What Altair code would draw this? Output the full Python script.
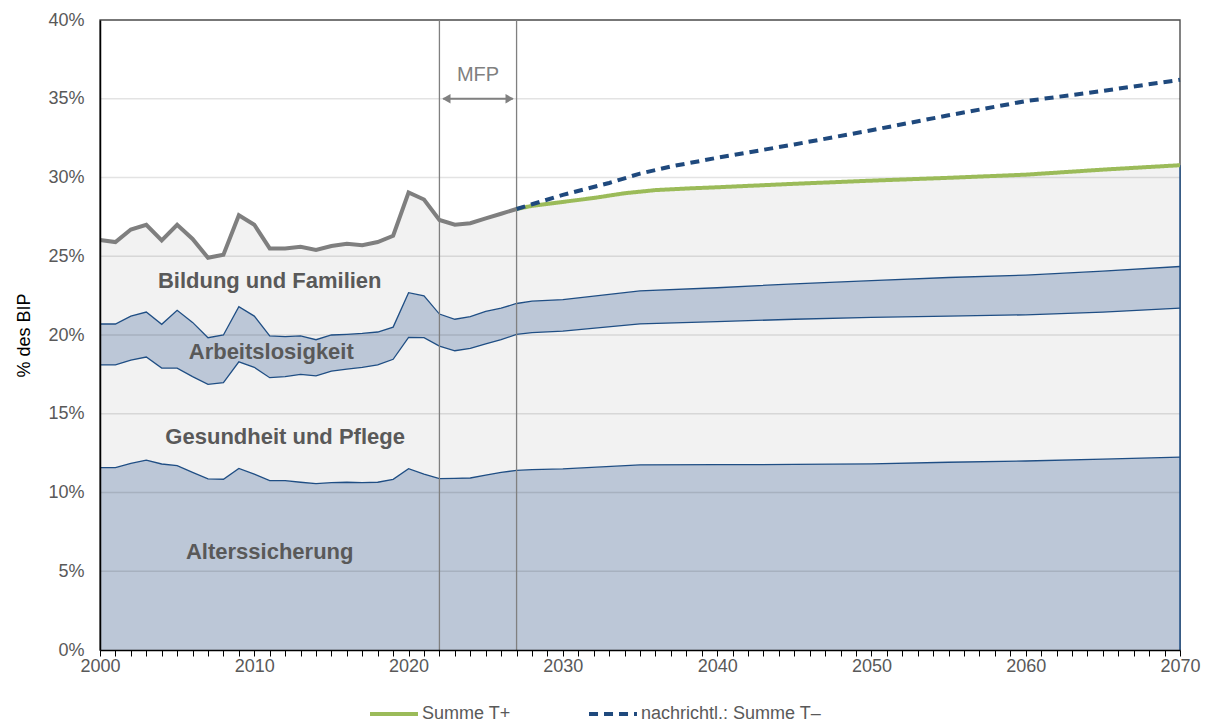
import altair as alt
import pandas as pd

# ---------------- data (values in % of GDP) ----------------
hist_years = list(range(2000, 2028))
proj_years = [2028, 2030, 2035, 2040, 2045, 2050, 2055, 2060, 2065, 2070]
years = hist_years + proj_years

# upper boundary of each stacked band (cumulative)
alters_top = [11.58, 11.58, 11.85, 12.06, 11.81, 11.70, 11.28, 10.86, 10.84, 11.53,
              11.17, 10.75, 10.75, 10.65, 10.56, 10.63, 10.65, 10.63, 10.65, 10.84,
              11.51, 11.17, 10.88, 10.90, 10.92, 11.11, 11.28, 11.40,
              11.45, 11.50, 11.75, 11.77, 11.78, 11.82, 11.92, 12.00, 12.12, 12.25]
gesund_top = [18.10, 18.10, 18.40, 18.60, 17.90, 17.90, 17.36, 16.87, 16.97, 18.30,
              17.95, 17.29, 17.36, 17.50, 17.40, 17.70, 17.84, 17.95, 18.10, 18.46,
              19.85, 19.83, 19.30, 19.00, 19.15, 19.43, 19.70, 20.04,
              20.15, 20.25, 20.70, 20.85, 21.00, 21.12, 21.20, 21.28, 21.45, 21.70]
arbeit_top = [20.70, 20.70, 21.20, 21.46, 20.68, 21.57, 20.80, 19.83, 20.00, 21.80,
              21.20, 19.94, 19.90, 19.94, 19.70, 20.00, 20.04, 20.10, 20.19, 20.50,
              22.69, 22.48, 21.33, 21.00, 21.16, 21.50, 21.70, 22.00,
              22.15, 22.25, 22.80, 23.00, 23.25, 23.45, 23.65, 23.80, 24.05, 24.35]
total = [26.03, 25.90, 26.70, 27.00, 26.00, 27.00, 26.10, 24.90, 25.10, 27.60,
         27.00, 25.50, 25.50, 25.60, 25.40, 25.65, 25.80, 25.70, 25.90, 26.30,
         29.05, 28.60, 27.30, 27.00, 27.10, 27.40, 27.70, 28.00,
         28.20, 28.45, 29.15, 29.38, 29.60, 29.80, 29.98, 30.18, 30.50, 30.78]

# projection lines
tplus_years = [2027, 2028, 2030, 2032, 2034, 2036, 2038, 2040, 2045, 2050, 2055, 2060, 2065, 2070]
tplus_vals = [28.00, 28.20, 28.45, 28.70, 29.00, 29.20, 29.30, 29.38, 29.60, 29.80, 29.98, 30.18, 30.50, 30.78]
tminus_years = [2027, 2028, 2030, 2033, 2035, 2037, 2040, 2045, 2050, 2055, 2060, 2065, 2070]
tminus_vals = [28.00, 28.30, 28.90, 29.65, 30.25, 30.70, 31.25, 32.10, 33.00, 33.95, 34.85, 35.50, 36.20]

band_names = ["Alterssicherung", "Gesundheit und Pflege", "Arbeitslosigkeit", "Bildung und Familien"]
band_colors = ["#bcc7d7", "#f2f2f2", "#bcc7d7", "#f2f2f2"]
line_names = ["Summe T+", "nachrichtl.: Summe T–"]
line_colors = ["#9bbb59", "#1f497d"]

label_x = [2011.0, 2012.0, 2011.1, 2011.0]
label_y = [6.2, 13.5, 18.9, 23.4]
label_txt = ["Alterssicherung", "Gesundheit und Pflege", "Arbeitslosigkeit", "Bildung und Familien"]

mfp_years = [2022, 2027]
grid_vals = [5, 10, 15, 20, 25, 30, 35, 40]

# ---------------- tables ----------------
bounds = [[0.0] * len(years), alters_top, gesund_top, arbeit_top, total]
rows = []
for i, name in enumerate(band_names):
    for j, yr in enumerate(years):
        rows.append({"year": yr, "band": name, "lo": bounds[i][j], "hi": bounds[i + 1][j]})
bands = pd.DataFrame(rows)

edge_rows = []
for k, arr in enumerate([alters_top, gesund_top, arbeit_top]):
    for j, yr in enumerate(years):
        edge_rows.append({"year": yr, "edge": k, "v": arr[j]})
edges = pd.DataFrame(edge_rows)

hist = pd.DataFrame({"year": hist_years, "v": total[:len(hist_years)]})
proj = pd.concat([
    pd.DataFrame({"year": tplus_years, "v": tplus_vals, "s": line_names[0]}),
    pd.DataFrame({"year": tminus_years, "v": tminus_vals, "s": line_names[1]}),
])
labels = pd.DataFrame({"x": label_x, "y": label_y, "t": label_txt})
grid = pd.DataFrame({"g": grid_vals})
mfp = pd.DataFrame({"year": mfp_years})
right_edge = pd.DataFrame({"year": [years[-1]], "lo": [0.0], "hi": [total[-1]]})
arrow = pd.DataFrame({"year": [mfp_years[0] + 0.25], "x2": [mfp_years[1] - 0.25], "y": [35.0]})
heads = pd.DataFrame({"year": [mfp_years[0] + 0.45, mfp_years[1] - 0.45], "y": [35.0, 35.0],
                      "shape": ["triangle-left", "triangle-right"]})
mfp_txt = pd.DataFrame({"year": [(mfp_years[0] + mfp_years[1]) / 2], "y": [36.5], "t": ["MFP"]})

FONT = "Liberation Sans"
xs = alt.Scale(domain=[2000, 2070], nice=False, zero=False)
ys = alt.Scale(domain=[0, 40], nice=False)

xaxis = alt.Axis(values=list(range(2000, 2071)), labelExpr="datum.value % 10 == 0 ? datum.value : ''",
                 grid=False, domainColor="#000000", domainWidth=1.5, tickColor="#000000", tickSize=6,
                 labelFont=FONT, labelFontSize=18, labelColor="#595959", labelPadding=1,
                 labelOverlap=False, labelFlush=False, title=None, zindex=1)
yaxis = alt.Axis(values=list(range(0, 41, 5)), labelExpr="datum.value + '%'", grid=False,
                 domainColor="#000000", domainWidth=1.5, ticks=False,
                 labelFont=FONT, labelFontSize=18, labelColor="#595959", labelPadding=16,
                 title="% des BIP", titleFont=FONT, titleFontSize=18, titleFontWeight="normal",
                 titleColor="#000000", titlePadding=14, zindex=1)


def X(field):
    return alt.X(field, type="quantitative", scale=xs, axis=xaxis)


def Y(field):
    return alt.Y(field, type="quantitative", scale=ys, axis=yaxis)


legend_props = dict(orient="none", legendX=268, legendY=668, direction="horizontal",
                    symbolType="stroke", symbolSize=2300, symbolStrokeWidth=4,
                    labelFont=FONT, labelFontSize=18, labelColor="#595959", labelLimit=400,
                    columnPadding=70, labelOffset=2, padding=0)

area = alt.Chart(bands).mark_area(opacity=1).encode(
    x=X("year"), y=Y("hi"), y2="lo:Q",
    fill=alt.Fill("band:N", scale=alt.Scale(domain=band_names, range=band_colors), legend=None),
    detail="band:N",
)

gridl = alt.Chart(grid).mark_rule(color="#000000", opacity=0.11, strokeWidth=1.5).encode(y=Y("g"))

edge_lines = alt.Chart(edges).mark_line(color="#1f4e84", strokeWidth=1.3).encode(
    x=X("year"), y=Y("v"), detail="edge:N"
)

redge = alt.Chart(right_edge).mark_rule(color="#1f4e84", strokeWidth=1.5).encode(
    x=X("year"), y=Y("lo"), y2="hi:Q"
)

vlines = alt.Chart(mfp).mark_rule(color="#808080", strokeWidth=1.3).encode(x=X("year"))

hist_line = alt.Chart(hist).mark_line(color="#7f7f7f", strokeWidth=4, strokeJoin="miter").encode(
    x=X("year"), y=Y("v")
)

proj_lines = alt.Chart(proj).mark_line(strokeWidth=4).encode(
    x=X("year"), y=Y("v"),
    color=alt.Color("s:N", scale=alt.Scale(domain=line_names, range=line_colors), title=None,
                    legend=alt.Legend(**legend_props)),
    strokeDash=alt.StrokeDash("s:N", scale=alt.Scale(domain=line_names, range=[[1, 0], [9, 6]]),
                              title=None, legend=alt.Legend(**legend_props)),
    order=alt.Order("s:N", sort="ascending"),
)

texts = alt.Chart(labels).mark_text(font=FONT, fontSize=22, fontWeight="bold", color="#595959").encode(
    x=X("x"), y=Y("y"), text="t:N"
)

arrow_line = alt.Chart(arrow).mark_rule(color="#808080", strokeWidth=2).encode(
    x=X("year"), x2="x2:Q", y=Y("y")
)
arrow_heads = alt.Chart(heads).mark_point(filled=True, color="#808080", size=90, opacity=1).encode(
    x=X("year"), y=Y("y"),
    shape=alt.Shape("shape:N", scale=None, legend=None)
)
mfp_label = alt.Chart(mfp_txt).mark_text(font=FONT, fontSize=20, color="#808080").encode(
    x=X("year"), y=Y("y"), text="t:N"
)

chart = alt.layer(
    area, gridl, edge_lines, redge, vlines, hist_line, proj_lines, texts,
    arrow_line, arrow_heads, mfp_label
).properties(
    width=1080, height=630,
    autosize=alt.AutoSizeParams(type="none"),
    padding={"left": 92, "top": 12, "right": 24, "bottom": 85},
    background="#ffffff",
).configure_view(stroke="#595959", strokeWidth=1.5)

chart.save("out.html", embed_options={"renderer": "svg", "actions": False})
